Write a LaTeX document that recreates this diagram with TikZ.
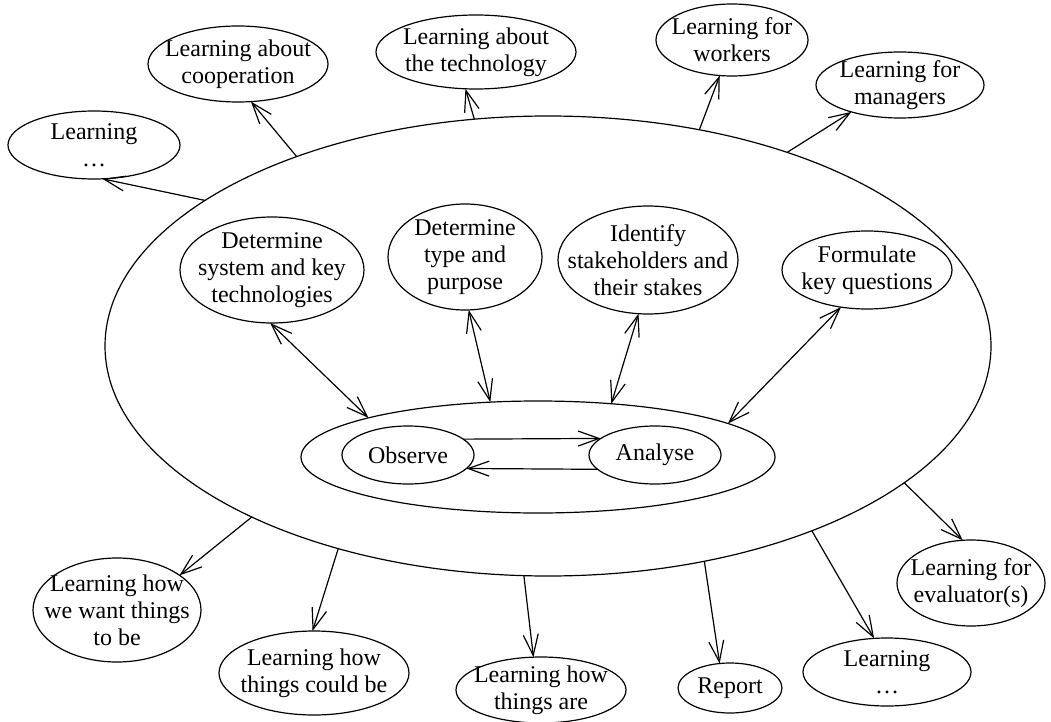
\documentclass[tikz,border=0pt]{standalone}
\usepackage{fontspec}
\setmainfont{Liberation Serif}
\usetikzlibrary{shapes.geometric, arrows.meta}

\begin{document}
\begin{tikzpicture}[x=1pt, y=-1pt,
  line width=1.2pt,
  bub/.style 2 args={ellipse, draw, inner sep=0pt, outer sep=0pt,
    minimum width=#1, minimum height=#2},
  txt/.style={align=center, inner sep=0pt, font=\fontsize{24}{27}\selectfont},
  barb/.tip={Straight Barb[length=21pt, width=15pt]},
  arr/.style={-barb},
  dbl/.style={barb-barb},
]
\useasboundingbox (0,0) rectangle (1051,722);

% evaluation context and the observe/analyse cycle
\node[bub={886pt}{460pt}] (big) at (548,346) {};
\node[bub={474pt}{112pt}] (inner) at (538,457) {};
\node[bub={132pt}{58pt}] (obs) at (408,455) {};
\node[txt] (obs-t) at (obs) {Observe};
\node[bub={132pt}{58pt}] (ana) at (655,455) {};
\node[txt] (ana-t) at (ana) {Analyse};

% preparation steps
\node[bub={184pt}{106pt}] (sys) at (272,270) {};
\node[txt] (sys-t) at (sys) {Determine\\system and key\\technologies};
\node[bub={154pt}{106pt}] (type) at (465,257) {};
\node[txt] (type-t) at (type) {Determine\\type and\\purpose};
\node[bub={180pt}{108pt}] (stake) at (648,260) {};
\node[txt] (stake-t) at (stake) {Identify\\stakeholders and\\their stakes};
\node[bub={170pt}{78pt}] (quest) at (867,270) {};
\node[txt] (quest-t) at (quest) {Formulate\\key questions};

% outcomes above
\node[bub={172pt}{68pt}] (lx1) at (94,145) {};
\node[txt] (lx1-t) at (lx1) {Learning\\…};
\node[bub={180pt}{76pt}] (coop) at (238,64) {};
\node[txt] (coop-t) at (coop) {Learning about\\cooperation};
\node[bub={200pt}{74pt}] (tech) at (476,52) {};
\node[txt] (tech-t) at (tech) {Learning about\\the technology};
\node[bub={152pt}{72pt}] (work) at (732,40) {};
\node[txt] (work-t) at (work) {Learning for\\workers};
\node[bub={168pt}{66pt}] (mgr) at (900,85) {};
\node[txt] (mgr-t) at (mgr) {Learning for\\managers};

% outcomes below
\node[bub={148pt}{86pt}] (eval) at (971,583) {};
\node[txt] (eval-t) at (eval) {Learning for\\evaluator(s)};
\node[bub={168pt}{68pt}] (lx2) at (887,672) {};
\node[txt] (lx2-t) at (lx2) {Learning\\…};
\node[bub={104pt}{50pt}] (rep) at (730,688) {};
\node[txt] (rep-t) at (rep) {Report};
\node[bub={170pt}{66pt}] (are) at (541,690) {};
\node[txt] (are-t) at (are) {Learning how\\things are};
\node[bub={190pt}{84pt}] (could) at (314,673) {};
\node[txt] (could-t) at (could) {Learning how\\things could be};
\node[bub={168pt}{104pt}] (want) at (117,610) {};
\node[txt] (want-t) at (want) {Learning how\\we want things\\to be};

% outgoing learning arrows
\draw[arr] (big.157.4) -- (lx1.-76);
\draw[arr] (big.143.6) -- (coop.-71.6);
\draw[arr] (big.108.2) -- (tech.-106);
\draw[arr] (big.55.6) -- (work.-109.9);
\draw[arr] (big.39.5) -- (mgr.-151.1);
\draw[arr] (big.-21.7) -- (eval.101);
\draw[arr] (big.-35.2) -- (lx2.111.8);
\draw[arr] (big.-54.7) -- (rep.113);
\draw[arr] (big.-96.2) -- (are.103.6);
\draw[arr] (big.-136) -- (could.92.7);
\draw[arr] (big.-150.7) -- (want.29.1);

% links between preparation steps and the cycle
\draw[dbl] (sys.-92) -- (inner.167.5);
\draw[dbl] (type.-86.8) -- (inner.131.8);
\draw[dbl] (stake.-100.9) -- (inner.36.3);
\draw[dbl] (quest.-125.4) -- (inner.10.6);
\draw[arr] (obs.16.2) -- (ana.163.8);
\draw[arr] (ana.-166.4) -- (obs.-13.6);
\end{tikzpicture}
\end{document}
